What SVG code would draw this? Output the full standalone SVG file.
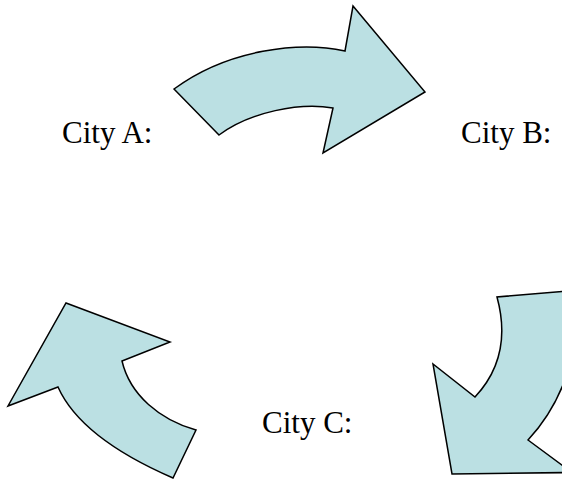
<svg xmlns="http://www.w3.org/2000/svg" width="562" height="490" viewBox="0 0 562 490">
<style>
.arrow{fill:#BBE0E3;stroke:#000;stroke-width:1.5;stroke-linejoin:miter}
.lbl{font-family:"Liberation Serif","Times New Roman",serif;font-size:31px;fill:#000}
</style>
<rect width="562" height="490" fill="#fff"/>
<g id="connectors">
<path id="arrow-ab" class="arrow" d="M174,89 L219,135 C250,112 300,102 333,108 L323,153 L425,92 L353,6 L345,51 C300,41 228,49 174,89 Z"/>
<path id="arrow-bc" class="arrow" d="M497,297 C506,330 505,365 475,397 L433,364 L452,474 L572,472.5 L528,440 C565,400 580,350 578,290 Z"/>
<path id="arrow-ca" class="arrow" d="M122,361 C130,395 160,420 196,430 L173,478 C120,455 75,425 58,387 L8,406 L66,303 L170,342 Z"/>
</g>
<g id="cityA"><text class="lbl" x="62" y="143">City A:</text></g>
<g id="cityB"><text class="lbl" x="461" y="143">City B:</text></g>
<g id="cityC"><text class="lbl" x="262" y="433">City C:</text></g>
</svg>
